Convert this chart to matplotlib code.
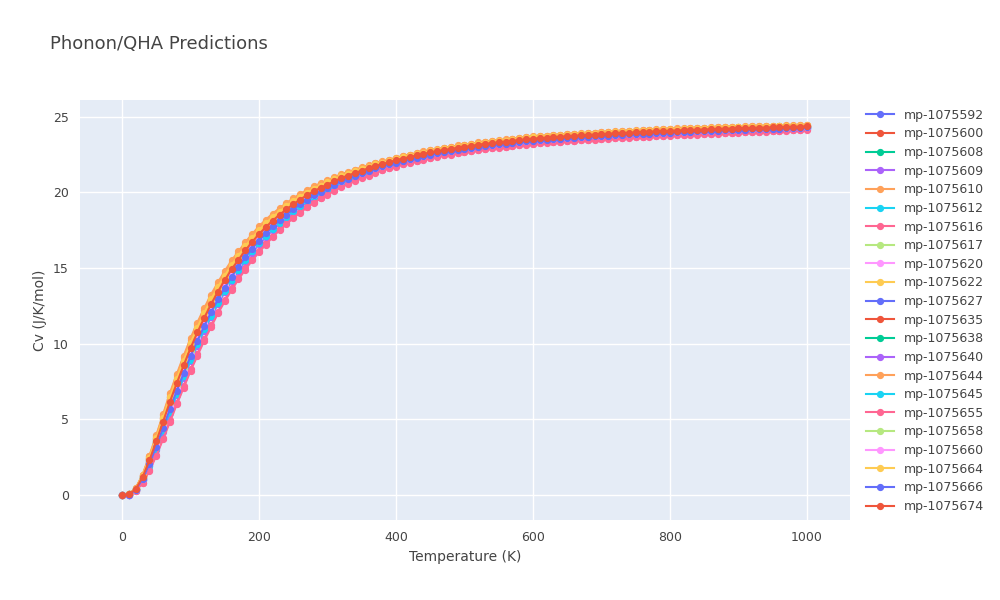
import numpy as np
import matplotlib
matplotlib.use("Agg")
import matplotlib.pyplot as plt

names = ["mp-1075592","mp-1075600","mp-1075608","mp-1075609","mp-1075610","mp-1075612",
         "mp-1075616","mp-1075617","mp-1075620","mp-1075622","mp-1075627","mp-1075635",
         "mp-1075638","mp-1075640","mp-1075644","mp-1075645","mp-1075655","mp-1075658",
         "mp-1075660","mp-1075664","mp-1075666","mp-1075674"]
# highest curve (orange), 10 K steps
high = [0,0.05,0.45,1.35,2.6,3.95,5.35,6.75,8.0,9.2,10.35,11.4,12.35,13.25,14.05,14.8,15.5,16.1,16.7,17.25,
        17.75,18.2,18.6,18.95,19.3,19.6,19.9,20.15,20.4,20.6,20.8,21.0,21.2,21.35,21.5,21.65,21.8,21.95,22.05,22.15,
        22.3,22.4,22.5,22.6,22.7,22.8,22.85,22.95,23.0,23.1,23.15,23.2,23.3,23.35,23.4,23.45,23.5,23.55,23.6,23.65,
        23.7,23.72,23.75,23.8,23.82,23.85,23.88,23.9,23.93,23.95,23.98,24.0,24.03,24.05,24.07,24.1,24.12,24.14,24.16,24.18,
        24.2,24.22,24.24,24.25,24.27,24.28,24.3,24.31,24.33,24.34,24.35,24.36,24.37,24.38,24.39,24.4,24.41,24.42,24.43,24.44,24.45]
# lowest curve (pink)
low = [0,0.02,0.25,0.8,1.6,2.6,3.7,4.85,6.0,7.1,8.2,9.2,10.2,11.1,12.0,12.8,13.55,14.25,14.9,15.5,
       16.05,16.55,17.05,17.5,17.9,18.3,18.65,19.0,19.3,19.6,19.85,20.1,20.35,20.55,20.75,20.95,21.1,21.3,21.45,21.6,
       21.7,21.85,21.95,22.05,22.15,22.25,22.35,22.45,22.5,22.6,22.65,22.72,22.8,22.85,22.9,22.95,23.0,23.05,23.1,23.15,
       23.2,23.23,23.27,23.3,23.33,23.37,23.4,23.43,23.46,23.49,23.52,23.55,23.57,23.6,23.62,23.64,23.66,23.68,23.7,23.72,
       23.74,23.76,23.78,23.8,23.82,23.84,23.86,23.88,23.9,23.92,23.94,23.96,23.98,24.0,24.02,24.04,24.06,24.08,24.1,24.12,24.15]
# position of each series between the lowest and highest curve
weights = [0.6,0.85,0.7,0.45,1.0,0.5,0.05,0.75,0.55,0.9,0.4,0.8,0.65,0.3,0.95,0.35,0.0,0.6,0.5,0.85,0.45,0.7]

colors = ["#636EFA","#EF553B","#00CC96","#AB63FA","#FFA15A","#19D3F3","#FF6692","#B6E880","#FF97FF","#FECB52"]

n = min(len(high), len(low))
T = np.arange(n) * 10
hi = np.array(high[:n]); lo = np.array(low[:n])

fig = plt.figure(figsize=(10, 6), dpi=100)
ax = fig.add_axes([0.08, 0.1333, 0.77, 0.7])
ax.set_facecolor("#E5ECF6")
for i, (nm, w) in enumerate(zip(names, weights)):
    ax.plot(T, lo + w * (hi - lo), "-o", color=colors[i % 10], lw=1.5, ms=4.2, label=nm)
ax.set_xlim(-61.4, 1063)
ax.set_ylim(-1.65, 26.1)
ax.set_xticks([0, 200, 400, 600, 800, 1000])
ax.set_yticks([0, 5, 10, 15, 20, 25])
ax.grid(color="white", lw=1)
ax.set_axisbelow(True)
for s in ax.spines.values():
    s.set_visible(False)
ax.tick_params(length=0, labelsize=9, colors="#444444", pad=8)
ax.set_xlabel("Temperature (K)", fontsize=10, color="#444444")
ax.set_ylabel("Cv (J/K/mol)", fontsize=10, color="#444444")
fig.text(0.05, 0.918, "Phonon/QHA Predictions", fontsize=13, color="#444444")
leg = ax.legend(loc="upper left", bbox_to_anchor=(1.01, 1.0), frameon=False, fontsize=9,
                labelspacing=0.45, handlelength=2.2, borderaxespad=0.3)
for t in leg.get_texts():
    t.set_color("#444444")
fig.savefig("out.png")
